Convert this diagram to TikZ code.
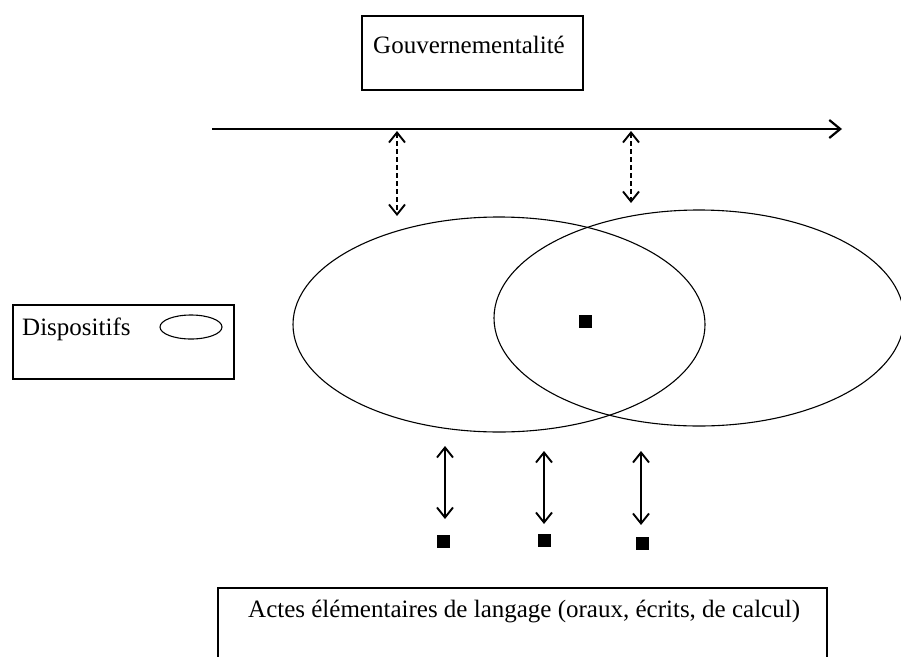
\documentclass[tikz,border=0pt]{standalone}
\usepackage{fontspec}
\setmainfont{Liberation Serif}
\usetikzlibrary{shapes.geometric,arrows.meta}
\tikzset{
  lbl/.style={anchor=base west,inner sep=0pt,font=\fontsize{25}{30}\selectfont},
  frame/.style={draw,line width=1.5pt,anchor=north west,inner sep=0pt},
  oval/.style={draw,ellipse,line width=1.1pt,inner sep=0pt},
  dot/.style={fill,minimum size=13pt,inner sep=0pt},
  link/.style={line width=1.9pt,{Straight Barb[length=10pt,width=16pt,line width=1.9pt]}-{Straight Barb[length=10pt,width=16pt,line width=1.9pt]}},
  dashlink/.style={link,dash pattern=on 5pt off 3pt}
}
\begin{document}
\begin{tikzpicture}[x=1pt,y=-1pt]
    \useasboundingbox (0,0) rectangle (901,656);
    \clip (0,0) rectangle (901,656);
    \node(GouvBox)  [frame,minimum width=221pt,minimum height=74pt] at (361,15) {};
    \node(Gouv)     [lbl] at (373,53) {Gouvernementalité};
    \node(LegendBox) [frame,minimum width=221pt,minimum height=74pt] at (12,304) {};
    \node(Legend)   [lbl] at (22,335) {Dispositifs};
    \node(LegendOval) [oval,minimum width=62pt,minimum height=24pt] at (191,327) {};
    \node(ActesBox) [frame,minimum width=609pt,minimum height=100pt] at (217,587) {};
    \node(Actes)    [lbl] at (248,617) {Actes élémentaires de langage (oraux, écrits, de calcul)};
    \node(DispA)    [oval,minimum width=412pt,minimum height=215pt] at (499,324.5) {};
    \node(DispB)    [oval,minimum width=410pt,minimum height=216pt] at (699,318) {};
    \node(Centre)   [dot] at (585,321) {};
    \node(ActA)     [dot] at (443,541) {};
    \node(ActB)     [dot] at (544,540) {};
    \node(ActC)     [dot] at (642,543) {};
    \coordinate(AxisW) at (212,129);
    \coordinate(AxisE) at (842,129);
    \coordinate(TopA)  at (397,131);
    \coordinate(BotA)  at (397,216);
    \coordinate(TopB)  at (631,131);
    \coordinate(BotB)  at (631,203);
    \coordinate(UpA)   at (445,446);
    \coordinate(LowA)  at (445,519);
    \coordinate(UpB)   at (544,451);
    \coordinate(LowB)  at (544,524);
    \coordinate(UpC)   at (641,451);
    \coordinate(LowC)  at (641,525);
    \draw[line width=2.4pt,-{Straight Barb[length=11pt,width=18pt,line width=2.2pt]}] (AxisW) -- (AxisE);
    \draw[dashlink] (TopA) -- (BotA);
    \draw[dashlink] (TopB) -- (BotB);
    \draw[link] (UpA) -- (LowA);
    \draw[link] (UpB) -- (LowB);
    \draw[link] (UpC) -- (LowC);
\end{tikzpicture}
\end{document}
